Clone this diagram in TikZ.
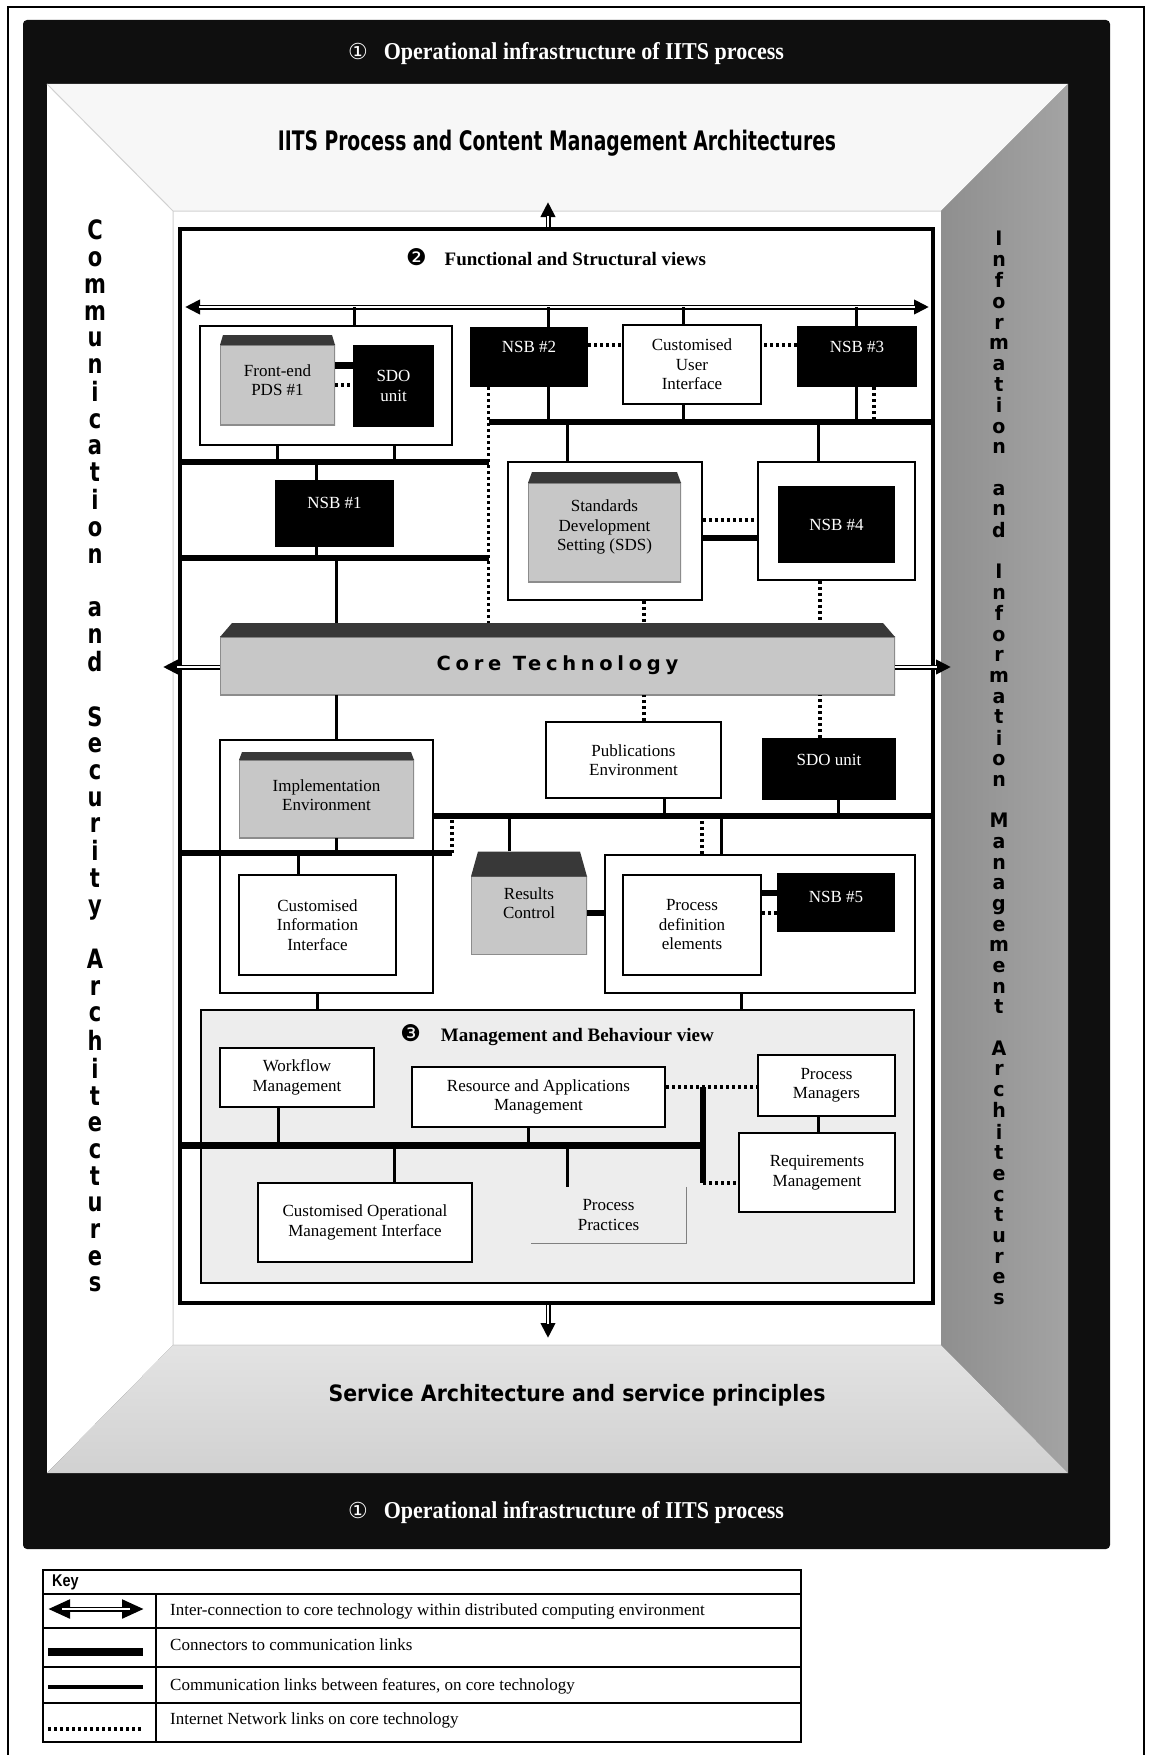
\documentclass[tikz,border=0pt]{standalone}
\usepackage{fontspec}
\setmainfont{Liberation Serif}
\newfontfamily\wallfont{DejaVu Sans}
\newfontfamily\corefont[LetterSpace=24]{DejaVu Sans}
\newfontfamily\keyfont{Liberation Sans}
\newfontfamily\symfont{DejaVu Sans}
\usepackage{graphicx}
\usetikzlibrary{arrows.meta,calc,positioning}
\newcommand{\stackup}[2]{\scalebox{1}[#1]{\begin{tabular}{@{}c@{}}#2\end{tabular}}}

\begin{document}
\begin{tikzpicture}[x=1pt,y=1pt,font=\fontsize{17}{19.5}\selectfont,
  link/.style={line width=3pt},
  bus/.style={line width=6.5pt},
  net/.style={line width=3.2pt,dash pattern=on 3pt off 3pt},
  inter/.style={line width=5pt,arrows={-Triangle[length=15pt,width=14pt]},
     postaction={draw=white,line width=1.4pt,-,shorten >=14pt}},
  interboth/.style={line width=5pt,arrows={Triangle[length=15pt,width=14pt]-Triangle[length=15pt,width=14pt]},
     postaction={draw=white,line width=1.4pt,-,shorten >=14pt,shorten <=14pt}},
  mainbox/.style={draw,line width=4.5pt,fill=white,inner sep=0pt},
  groupbox/.style={draw,line width=1.8pt,fill=white,inner sep=0pt},
  featbox/.style={draw,line width=2.4pt,fill=white,align=center,inner sep=0pt},
  thinbox/.style={draw,line width=1.2pt,fill=white,align=center,inner sep=0pt},
  nsbbox/.style={fill=black,text=white,align=center,inner sep=0pt},
  envbox/.style 2 args={fill=white,align=center,inner sep=0pt,path picture={
     \fill[black!22] ([yshift=-#1]path picture bounding box.north west) rectangle (path picture bounding box.south east);
     \draw[black!45,line width=1.6pt] ([yshift=-#1]path picture bounding box.north west) rectangle (path picture bounding box.south east);
     \fill[black!78] ([yshift=-#1]path picture bounding box.north west) -- ([xshift=#2]path picture bounding box.north west)
        -- ([xshift=-#2]path picture bounding box.north east) -- ([yshift=-#1]path picture bounding box.north east) -- cycle;}},
  keytext/.style={anchor=west,inner sep=0pt,font=\fontsize{17}{20}\selectfont}]
  \useasboundingbox (0,0) rectangle (1148,-1755);
  % page rule and black frame
  \draw[line width=1.5pt] (8,-1755) -- (8,-7) -- (1144,-7) -- (1144,-1755);
  \fill[black!94,rounded corners=4pt] (23,-20) rectangle (1110,-1549);
  % the room: ceiling, walls, floor, back wall
  \fill[black!3] (47,-84) -- (1068,-84) -- (941,-211) -- (173,-211) -- cycle;
  \fill[white] (47,-84) -- (173,-211) -- (173,-1345) -- (47,-1473) -- cycle;
  \shade[left color=black!44,right color=black!36] (1068,-84) -- (941,-211) -- (941,-1345) -- (1068,-1473) -- cycle;
  \shade[top color=black!11,bottom color=black!18] (47,-1473) -- (173,-1345) -- (941,-1345) -- (1068,-1473) -- cycle;
  \fill[white] (173,-211) rectangle (941,-1345);
  \draw[black!18,line width=1pt] (47,-84) -- (173,-211) -- (941,-211) (173,-211) -- (173,-1345) -- (941,-1345);
  % frame and wall texts
  \node[text=white,font=\bfseries\fontsize{22}{24}\selectfont] (optop) at (566,-54)
       {{\symfont\mdseries\fontsize{22}{22}\selectfont ①}\hspace{16pt}\scalebox{1}[1.1]{Operational infrastructure of IITS process}};
  \node[text=white,font=\bfseries\fontsize{22}{24}\selectfont] (opbot) at (566,-1513)
       {{\symfont\mdseries\fontsize{22}{22}\selectfont ①}\hspace{16pt}\scalebox{1}[1.1]{Operational infrastructure of IITS process}};
  \node[font=\wallfont\bfseries\fontsize{24}{26}\selectfont] (ttl) at (557,-143)
       {\scalebox{0.78}[1.12]{IITS Process and Content Management Architectures}};
  \node[font=\wallfont\bfseries\fontsize{20.5}{24}\selectfont] (svc) at (577,-1395)
       {\scalebox{1}[1.1]{Service Architecture and service principles}};
  \node[font=\wallfont\bfseries\fontsize{21}{21}\selectfont] (lwall) at (95,-760)
       {\stackup{1.27}{C\\o\\m\\m\\u\\n\\i\\c\\a\\t\\i\\o\\n\\ \\a\\n\\d\\ \\S\\e\\c\\u\\r\\i\\t\\y\\ \\A\\r\\c\\h\\i\\t\\e\\c\\t\\u\\r\\e\\s}};
  \node[font=\wallfont\bfseries\fontsize{19}{19.67}\selectfont] (rwall) at (999,-771)
       {\stackup{1.05}{I\\n\\f\\o\\r\\m\\a\\t\\i\\o\\n\\ \\a\\n\\d\\ \\I\\n\\f\\o\\r\\m\\a\\t\\i\\o\\n\\ \\M\\a\\n\\a\\g\\e\\m\\e\\n\\t\\ \\A\\r\\c\\h\\i\\t\\e\\c\\t\\u\\r\\e\\s}};
  % main box
  \node[mainbox,minimum width=753,minimum height=1074] (main) at (556.5,-766) {};
  \node[font=\bfseries\fontsize{19}{22}\selectfont] (fsv) at (556,-257)
       {{\symfont\mdseries\fontsize{23}{23}\selectfont ❷}\hspace{18pt}Functional and Structural views};
  % functional row
  \node[groupbox,minimum width=252,minimum height=119] (grp1) at (326,-385.5) {};
  \node[envbox={10pt}{3pt},minimum width=115,minimum height=90] (fe) at (277.5,-380) {Front-end\\PDS \#1};
  \node[nsbbox,minimum width=81,minimum height=82] (sdo1) at (393.5,-386) {SDO\\unit};
  \node[nsbbox,minimum width=118,minimum height=60,text height=25.5pt,text depth=34.5pt] (nsb2) at (529,-357) {NSB \#2};
  \node[featbox,line width=2pt,minimum width=138,minimum height=79] (cui) at (692,-364.5) {Customised\\User\\Interface};
  \node[nsbbox,minimum width=120,minimum height=61,text height=26.5pt,text depth=34.5pt] (nsb3) at (857,-356.5) {NSB \#3};
  \node[nsbbox,minimum width=119,minimum height=67,text height=28.5pt,text depth=38.5pt] (nsb1) at (334.5,-513.5) {NSB \#1};
  \node[groupbox,minimum width=194,minimum height=138] (sdsg) at (605,-531) {};
  \node[envbox={11pt}{4pt},minimum width=153,minimum height=110] (sds) at (604.5,-527) {Standards\\Development\\Setting (SDS)};
  \node[groupbox,minimum width=157,minimum height=118] (nsb4g) at (836.5,-521) {};
  \node[nsbbox,minimum width=117,minimum height=77] (nsb4) at (836.5,-524.5) {NSB \#4};
  % core technology
  \node[envbox={14pt}{12pt},minimum width=675,minimum height=72,text height=47pt,text depth=25pt,
        font=\corefont\bfseries\fontsize{19.5}{22}\selectfont] (core) at (557.5,-659) {Core Technology};
  % structural row
  \node[groupbox,minimum width=213,minimum height=253] (implg) at (326.5,-866.5) {};
  \node[envbox={8pt}{3pt},minimum width=175,minimum height=86] (impl) at (326.5,-795) {Implementation\\Environment};
  \node[featbox,minimum width=157,minimum height=100] (cii) at (317.5,-925) {Customised\\Information\\Interface};
  \node[thinbox,minimum width=175,minimum height=76] (pub) at (633.5,-760) {Publications\\Environment};
  \node[nsbbox,minimum width=134,minimum height=62,text height=27.5pt,text depth=34.5pt] (sdo2) at (829,-769) {SDO unit};
  \node[envbox={25pt}{7pt},minimum width=116,minimum height=103] (rc) at (529,-903) {Results\\Control};
  \node[groupbox,minimum width=310,minimum height=138] (pdg) at (760,-924) {};
  \node[featbox,minimum width=138,minimum height=100] (pde) at (692,-925) {Process\\definition\\elements};
  \node[nsbbox,minimum width=118,minimum height=59,text height=29.5pt,text depth=29.5pt] (nsb5) at (836,-902.5) {NSB \#5};
  % management and behaviour view
  \node[draw,line width=1.8pt,fill=black!7,minimum width=713,minimum height=273,inner sep=0pt] (mg) at (557.5,-1146.5) {};
  \node[font=\bfseries\fontsize{19}{22}\selectfont] (mbv) at (557,-1035)
       {{\symfont\mdseries\fontsize{23}{23}\selectfont ❸}\hspace{20pt}Management and Behaviour view};
  \node[featbox,minimum width=154,minimum height=59] (wf) at (297,-1077.5) {Workflow\\Management};
  \node[featbox,minimum width=253,minimum height=60] (ram) at (538.5,-1097) {Resource and Applications\\Management};
  \node[featbox,minimum width=137,minimum height=61] (pm) at (826.5,-1085.5) {Process\\Managers};
  \node[featbox,minimum width=156,minimum height=79] (rm) at (817,-1172.5) {Requirements\\Management};
  \node[featbox,minimum width=214,minimum height=79] (comi) at (365,-1222.5) {Customised Operational\\Management Interface};
  \node[align=center,inner sep=0pt,minimum width=155,minimum height=56] (pp) at (608.5,-1215) {Process\\Practices};
  \draw[black!50,line width=1.2pt] (pp.north east) -- (pp.south east) -- (pp.south west);
  % bus ends
  \coordinate (b1L) at (185,-307);  \coordinate (b1R) at (929,-307);
  \coordinate (b2L) at (489,-422);  \coordinate (b2R) at (933,-422);
  \coordinate (b3L) at (180,-462);  \coordinate (b3R) at (489,-462);
  \coordinate (b4L) at (180,-558);  \coordinate (b4R) at (489,-558);
  \coordinate (b5L) at (180,-853);  \coordinate (b5R) at (452,-853);
  \coordinate (b6L) at (433,-816);  \coordinate (b6R) at (933,-816);
  \coordinate (b7L) at (180,-1145); \coordinate (b7R) at (706,-1145);
  \coordinate (vbT) at (703,-1087); \coordinate (vbB) at (703,-1183);
  \coordinate (upTip) at (548,-202); \coordinate (downTip) at (548,-1338);
  \coordinate (coreL) at (163,-667); \coordinate (coreR) at (951,-667);
  % inter-connections
  \draw[inter] ([xshift=-8.5pt]main.north) -- (upTip);
  \draw[inter] ([xshift=-8.5pt]main.south) -- (downTip);
  \draw[interboth] (b1L) -- (b1R);
  \draw[inter] ([yshift=-8pt]core.west) -- (coreL);
  \draw[inter] ([yshift=-8pt]core.east) -- (coreR);
  % top row links
  \draw[link] ([xshift=28pt]grp1.north) -- ([xshift=28pt]grp1.north |- b1L);
  \draw[link] ([xshift=19pt]nsb2.north) -- ([xshift=19pt]nsb2.north |- b1L);
  \draw[link] ([xshift=-9pt]cui.north) -- ([xshift=-9pt]cui.north |- b1L);
  \draw[link] ([xshift=-1pt]nsb3.north) -- ([xshift=-1pt]nsb3.north |- b1L);
  \draw[bus,line width=7pt] ([yshift=15pt]fe.east) -- ([yshift=15pt]fe.east -| sdo1.west);
  \draw[net] ([yshift=-5pt]fe.east) -- ([yshift=-5pt]fe.east -| sdo1.west);
  \draw[net] ([yshift=12pt]nsb2.east) -- ([yshift=12pt]nsb2.east -| cui.west);
  \draw[net] ([yshift=11.5pt]nsb3.west) -- ([yshift=11.5pt]nsb3.west -| cui.east);
  % second bus
  \draw[bus] (b2L) -- (b2R);
  \draw[link] ([xshift=19pt]nsb2.south) -- ([xshift=19pt]nsb2.south |- b2L);
  \draw[link] ([xshift=-9pt]cui.south) -- ([xshift=-9pt]cui.south |- b2L);
  \draw[link] ([xshift=-1pt]nsb3.south) -- ([xshift=-1pt]nsb3.south |- b2L);
  \draw[net] ([xshift=17pt]nsb3.south) -- ([xshift=17pt]nsb3.south |- b2L);
  \draw[link] ([xshift=-38pt]sdsg.north) -- ([xshift=-38pt]sdsg.north |- b2L);
  \draw[link] ([xshift=-18.5pt]nsb4g.north) -- ([xshift=-18.5pt]nsb4g.north |- b2L);
  \draw[net] ([xshift=19pt]nsb2.south west) -- ([xshift=19pt]nsb2.south west |- core.north);
  % left buses
  \draw[bus] (b3L) -- (b3R);
  \draw[link] ([xshift=-49pt]grp1.south) -- ([xshift=-49pt]grp1.south |- b3L);
  \draw[link] ([xshift=68pt]grp1.south) -- ([xshift=68pt]grp1.south |- b3L);
  \draw[link] ([xshift=-18.5pt]nsb1.north) -- ([xshift=-18.5pt]nsb1.north |- b3L);
  \draw[bus] (b4L) -- (b4R);
  \draw[link] ([xshift=-18.5pt]nsb1.south) -- ([xshift=-18.5pt]nsb1.south |- b4L);
  \draw[link] ([xshift=-221.5pt]core.north) -- ([xshift=-221.5pt]core.north |- b4L);
  % SDS and NSB 4
  \draw[net] ([yshift=11pt]sdsg.east) -- ([yshift=11pt]sdsg.east -| nsb4g.west);
  \draw[bus] ([yshift=-7pt]sdsg.east) -- ([yshift=-7pt]sdsg.east -| nsb4g.west);
  \draw[net] ([xshift=39pt]sdsg.south) -- ([xshift=39pt]sdsg.south |- core.north);
  \draw[net] ([xshift=-16.5pt]nsb4g.south) -- ([xshift=-16.5pt]nsb4g.south |- core.north);
  % below the core
  \draw[link] ([xshift=9.5pt]implg.north) -- ([xshift=9.5pt]implg.north |- core.south);
  \draw[net] ([xshift=10.5pt]pub.north) -- ([xshift=10.5pt]pub.north |- core.south);
  \draw[net] ([xshift=-9pt]sdo2.north) -- ([xshift=-9pt]sdo2.north |- core.south);
  \draw[bus] (b5L) -- (b5R);
  \draw[link] ([xshift=9.5pt]impl.south) -- ([xshift=9.5pt]impl.south |- b5L);
  \draw[link] ([xshift=-19.5pt]cii.north) -- ([xshift=-19.5pt]cii.north |- b5L);
  \draw[bus] (b6L) -- (b6R);
  \draw[net] (b5R) -- (b5R |- b6L);
  \draw[link] ([xshift=30.5pt]pub.south) -- ([xshift=30.5pt]pub.south |- b6L);
  \draw[link] ([xshift=9pt]sdo2.south) -- ([xshift=9pt]sdo2.south |- b6L);
  \draw[link] ([xshift=-20pt]rc.north) -- ([xshift=-20pt]rc.north |- b6L);
  \draw[net] ([xshift=-58pt]pdg.north) -- ([xshift=-58pt]pdg.north |- b6L);
  \draw[link] ([xshift=-39pt]pdg.north) -- ([xshift=-39pt]pdg.north |- b6L);
  \draw[bus] ([yshift=-10pt]rc.east) -- ([yshift=-10pt]rc.east -| pdg.west);
  \draw[bus] ([yshift=32pt]pde.east) -- ([yshift=32pt]pde.east -| nsb5.west);
  \draw[net] ([yshift=12pt]pde.east) -- ([yshift=12pt]pde.east -| nsb5.west);
  \draw[link] ([xshift=-9.5pt]implg.south) -- ([xshift=-9.5pt]implg.south |- mg.north);
  \draw[link] ([xshift=-19pt]pdg.south) -- ([xshift=-19pt]pdg.south |- mg.north);
  % management links
  \draw[bus,line width=7pt] (b7L) -- (b7R);
  \draw[bus] (vbT) -- (vbB);
  \draw[link] ([xshift=-19pt]wf.south) -- ([xshift=-19pt]wf.south |- b7L);
  \draw[link] ([xshift=-10.5pt]ram.south) -- ([xshift=-10.5pt]ram.south |- b7L);
  \draw[link] ([xshift=29pt]comi.north) -- ([xshift=29pt]comi.north |- b7L);
  \draw[link] ([xshift=-41.5pt]pp.north) -- ([xshift=-41.5pt]pp.north |- b7L);
  \draw[net] ([yshift=10pt]ram.east) -- ([yshift=10pt]ram.east -| pm.west);
  \draw[net] (vbB) -- (vbB -| rm.west);
  \draw[link] ([xshift=-8.5pt]pm.south) -- ([xshift=-8.5pt]pm.south |- rm.north);
  % key
  \draw[line width=1.5pt] (43,-1570) rectangle (801,-1742);
  \foreach \y in {1594,1628,1667,1703} { \draw[line width=1.5pt] (43,-\y) -- (801,-\y); }
  \draw[line width=1.5pt] (156,-1594) -- (156,-1742);
  \node[anchor=west,inner sep=0pt,font=\keyfont\bfseries\fontsize{17}{17}\selectfont] (keyt) at (52,-1582) {\scalebox{0.85}[1]{Key}};
  \draw[interboth,arrows={Triangle[length=22pt,width=18pt]-Triangle[length=22pt,width=18pt]},
        postaction={draw=white,line width=1.4pt,-,shorten >=21pt,shorten <=21pt}] (48,-1609) -- (144,-1609);
  \draw[bus,line width=8pt] (48,-1652) -- (143,-1652);
  \draw[link,line width=3.5pt] (48,-1687) -- (143,-1687);
  \draw[net] (48,-1729) -- (143,-1729);
  \node[keytext] (k1) at (170,-1611) {Inter-connection to core technology within distributed computing environment};
  \node[keytext] (k2) at (170,-1645) {Connectors to communication links};
  \node[keytext] (k3) at (170,-1686) {Communication links between features, on core technology};
  \node[keytext] (k4) at (170,-1720) {Internet Network links on core technology};
\end{tikzpicture}
\end{document}
